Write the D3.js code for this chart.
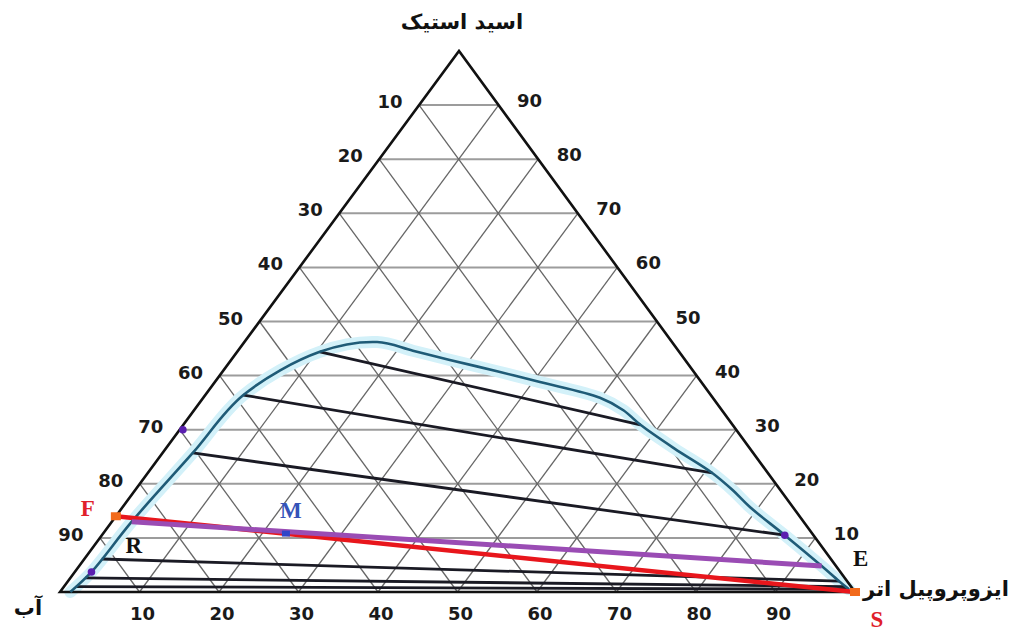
<!DOCTYPE html>
<html>
<head>
<meta charset="utf-8">
<script src="https://cdn.jsdelivr.net/npm/d3@7"></script>
<style>
  html, body { margin: 0; padding: 0; background: #ffffff; }
  svg { display: block; }
</style>
</head>
<body>
<svg id="chart" width="1019" height="635"></svg>
<script>
// Ternary diagram: water / acetic acid / isopropyl ether (all in %)
// Each point is [acid, ether]; water = 100 - acid - ether.

const gridSteps = [10, 20, 30, 40, 50, 60, 70, 80, 90];
const bottomTicks = ["10", "20", "30", "40", "50", "60", "70", "80", "90"];
const leftTicks = ["10", "20", "30", "40", "50", "60", "70", "80", "90"];   // top to bottom
const rightTicks = ["90", "80", "70", "60", "50", "40", "30", "20", "10"];  // top to bottom

// Binodal (solubility) curve, raffinate side to extract side
const binodal = [
  [0, 1.3], [3.7, 2.1], [13, 2.5], [25.7, 3.8], [36.4, 4.8], [44.4, 10.4],
  [46.2, 16.7], [44.6, 22.0], [42.9, 27.5], [40.8, 34.5], [38.8, 40.9],
  [35.9, 49.9], [33.6, 54.0], [30.9, 57.5], [26.5, 64.0], [22.0, 71.0],
  [18.8, 75.2], [15.7, 78.9], [10.5, 85.9], [4.8, 93.4], [2.0, 97.0], [0.5, 99.0]
];

// Tie lines: [raffinate point, extract point]
const tieLines = [
  [[44.4, 10.4], [30.9, 57.5]],
  [[36.4, 4.8], [22.0, 71.0]],
  [[25.7, 3.8], [10.5, 85.9]],
  [[6.1, 2.2], [2.0, 97.0]],
  [[2.6, 1.9], [1.0, 98.3]],
  [[1.0, 1.5], [0.5, 99.0]]
];

// Feed, solvent, mixture, raffinate, extract
const pointF = [14, 0];
const pointS = [0, 100];
const pointM = [10.8, 23];
const pointR = [13, 2.5];
const pointE = [4.8, 93.4];
const markedPoints = [[30, 0.4], [3.7, 2.1], [10.5, 85.9]];

// Corner names
const apexLabel = "اسید استیک";
const leftCornerLabel = "آب";
const rightCornerLabel = "ایزوپروپیل اتر";

// ---- scales ----
const left = { x: 60, y: 592 }, right = { x: 855, y: 592 }, apex = { x: 459, y: 51 };
const etherX = d3.scaleLinear().domain([0, 100]).range([left.x, right.x]);
const acidShift = d3.scaleLinear().domain([0, 100]).range([0, apex.x - left.x]);
const acidY = d3.scaleLinear().domain([0, 100]).range([left.y, apex.y]);
const px = p => etherX(p[1]) + acidShift(p[0]);
const py = p => acidY(p[0]);

const svg = d3.select("#chart");
const g = svg.append("g");

// ---- grid ----
const grid = g.append("g");
// constant acid (horizontal)
grid.selectAll("line.h").data(gridSteps).join("line")
  .attr("x1", a => px([a, 0])).attr("y1", a => py([a, 0]))
  .attr("x2", a => px([a, 100 - a])).attr("y2", a => py([a, 100 - a]))
  .attr("stroke", "#9c9c9c").attr("stroke-width", 2);
// constant ether (parallel to left side)
grid.selectAll("line.e").data(gridSteps).join("line")
  .attr("x1", e => px([0, e])).attr("y1", e => py([0, e]))
  .attr("x2", e => px([100 - e, e])).attr("y2", e => py([100 - e, e]))
  .attr("stroke", "#666").attr("stroke-width", 1.3);
// constant water (parallel to right side)
grid.selectAll("line.w").data(gridSteps).join("line")
  .attr("x1", w => px([0, 100 - w])).attr("y1", w => py([0, 100 - w]))
  .attr("x2", w => px([100 - w, 0])).attr("y2", w => py([100 - w, 0]))
  .attr("stroke", "#666").attr("stroke-width", 1.3);

// ---- binodal halo ----
const curve = d3.line().x(px).y(py).curve(d3.curveCatmullRom.alpha(0.5));
g.append("path").attr("d", curve(binodal))
  .attr("fill", "none").attr("stroke", "#d3f1f9").attr("stroke-width", 12)
  .attr("stroke-linejoin", "round").attr("stroke-linecap", "round");

// ---- triangle ----
g.append("path")
  .attr("d", `M${left.x},${left.y}L${apex.x},${apex.y}L${right.x},${right.y}Z`)
  .attr("fill", "none").attr("stroke", "#111").attr("stroke-width", 2.6)
  .attr("stroke-linejoin", "miter");

// ---- tie lines ----
g.selectAll("line.tie").data(tieLines).join("line")
  .attr("x1", d => px(d[0])).attr("y1", d => py(d[0]))
  .attr("x2", d => px(d[1])).attr("y2", d => py(d[1]))
  .attr("stroke", "#1a1a24").attr("stroke-width", 2.8);

// ---- binodal curve ----
g.append("path").attr("d", curve(binodal))
  .attr("fill", "none").attr("stroke", "#1f5b77").attr("stroke-width", 2.6)
  .attr("stroke-linejoin", "round");

// ---- F–S line and R–E line ----
g.append("line")
  .attr("x1", px(pointF)).attr("y1", py(pointF))
  .attr("x2", px(pointS)).attr("y2", py(pointS))
  .attr("stroke", "#e8161c").attr("stroke-width", 4.5);
g.append("line")
  .attr("x1", px(pointR)).attr("y1", py(pointR))
  .attr("x2", px(pointE)).attr("y2", py(pointE))
  .attr("stroke", "#9a4cb4").attr("stroke-width", 5);

// ---- points ----
g.selectAll("circle.mk").data(markedPoints).join("circle")
  .attr("cx", px).attr("cy", py).attr("r", 3.8).attr("fill", "#5a1fb0");
g.append("rect")
  .attr("x", px(pointM) - 4).attr("y", py(pointM) - 3).attr("width", 8).attr("height", 6)
  .attr("fill", "#2f45c8");
[pointF, pointS].forEach(p => {
  g.append("rect")
    .attr("x", px(p) - 5).attr("y", py(p) - 4).attr("width", 10).attr("height", 8)
    .attr("fill", "#f26a1b");
});

// ---- tick labels ----
const tickFont = "'DejaVu Sans', sans-serif";
const tickSize = 18;
g.selectAll("text.bt").data(gridSteps).join("text")
  .attr("x", e => px([0, e]) + 3).attr("y", e => py([0, e]) + 28)
  .attr("text-anchor", "middle").attr("font-family", tickFont)
  .attr("font-size", tickSize).attr("font-weight", "bold").attr("fill", "#1a1a1a")
  .text((d, i) => bottomTicks[i]);
const acidLevels = gridSteps.slice().reverse(); // 90 .. 10, top to bottom
g.selectAll("text.lt").data(acidLevels).join("text")
  .attr("x", a => px([a, 0]) - 29).attr("y", a => py([a, 0]) + 3)
  .attr("text-anchor", "middle").attr("font-family", tickFont)
  .attr("font-size", tickSize).attr("font-weight", "bold").attr("fill", "#1a1a1a")
  .text((d, i) => leftTicks[i]);
g.selectAll("text.rt").data(acidLevels).join("text")
  .attr("x", a => px([a, 100 - a]) + 31).attr("y", a => py([a, 100 - a]) + 2)
  .attr("text-anchor", "middle").attr("font-family", tickFont)
  .attr("font-size", tickSize).attr("font-weight", "bold").attr("fill", "#1a1a1a")
  .text((d, i) => rightTicks[i]);

// ---- corner names ----
const faFont = "'DejaVu Sans', sans-serif";
g.append("text").attr("x", 462).attr("y", 29).attr("text-anchor", "middle")
  .attr("font-family", faFont).attr("font-size", 21).attr("font-weight", "bold")
  .attr("fill", "#111").text(apexLabel);
g.append("text").attr("x", 28).attr("y", 615).attr("text-anchor", "middle")
  .attr("font-family", faFont).attr("font-size", 21).attr("font-weight", "bold")
  .attr("fill", "#111").text(leftCornerLabel);
g.append("text").attr("x", 936).attr("y", 596).attr("text-anchor", "middle")
  .attr("font-family", faFont).attr("font-size", 21).attr("font-weight", "bold")
  .attr("fill", "#111").text(rightCornerLabel);

// ---- point letters ----
const serif = "'Liberation Serif', serif";
const letters = [
  { t: "F", p: pointF, dx: -28, dy: 0, c: "#e0202a" },
  { t: "M", p: pointM, dx: 5, dy: -16, c: "#3553b8" },
  { t: "R", p: pointR, dx: 2, dy: 31, c: "#111" },
  { t: "E", p: pointE, dx: 39, dy: 0, c: "#111" },
  { t: "S", p: pointS, dx: 22, dy: 35, c: "#e0202a" }
];
g.selectAll("text.lbl").data(letters).join("text")
  .attr("x", d => px(d.p) + d.dx).attr("y", d => py(d.p) + d.dy)
  .attr("text-anchor", "middle").attr("font-family", serif)
  .attr("font-size", 23).attr("font-weight", "bold")
  .attr("fill", d => d.c).text(d => d.t);
</script>
</body>
</html>
